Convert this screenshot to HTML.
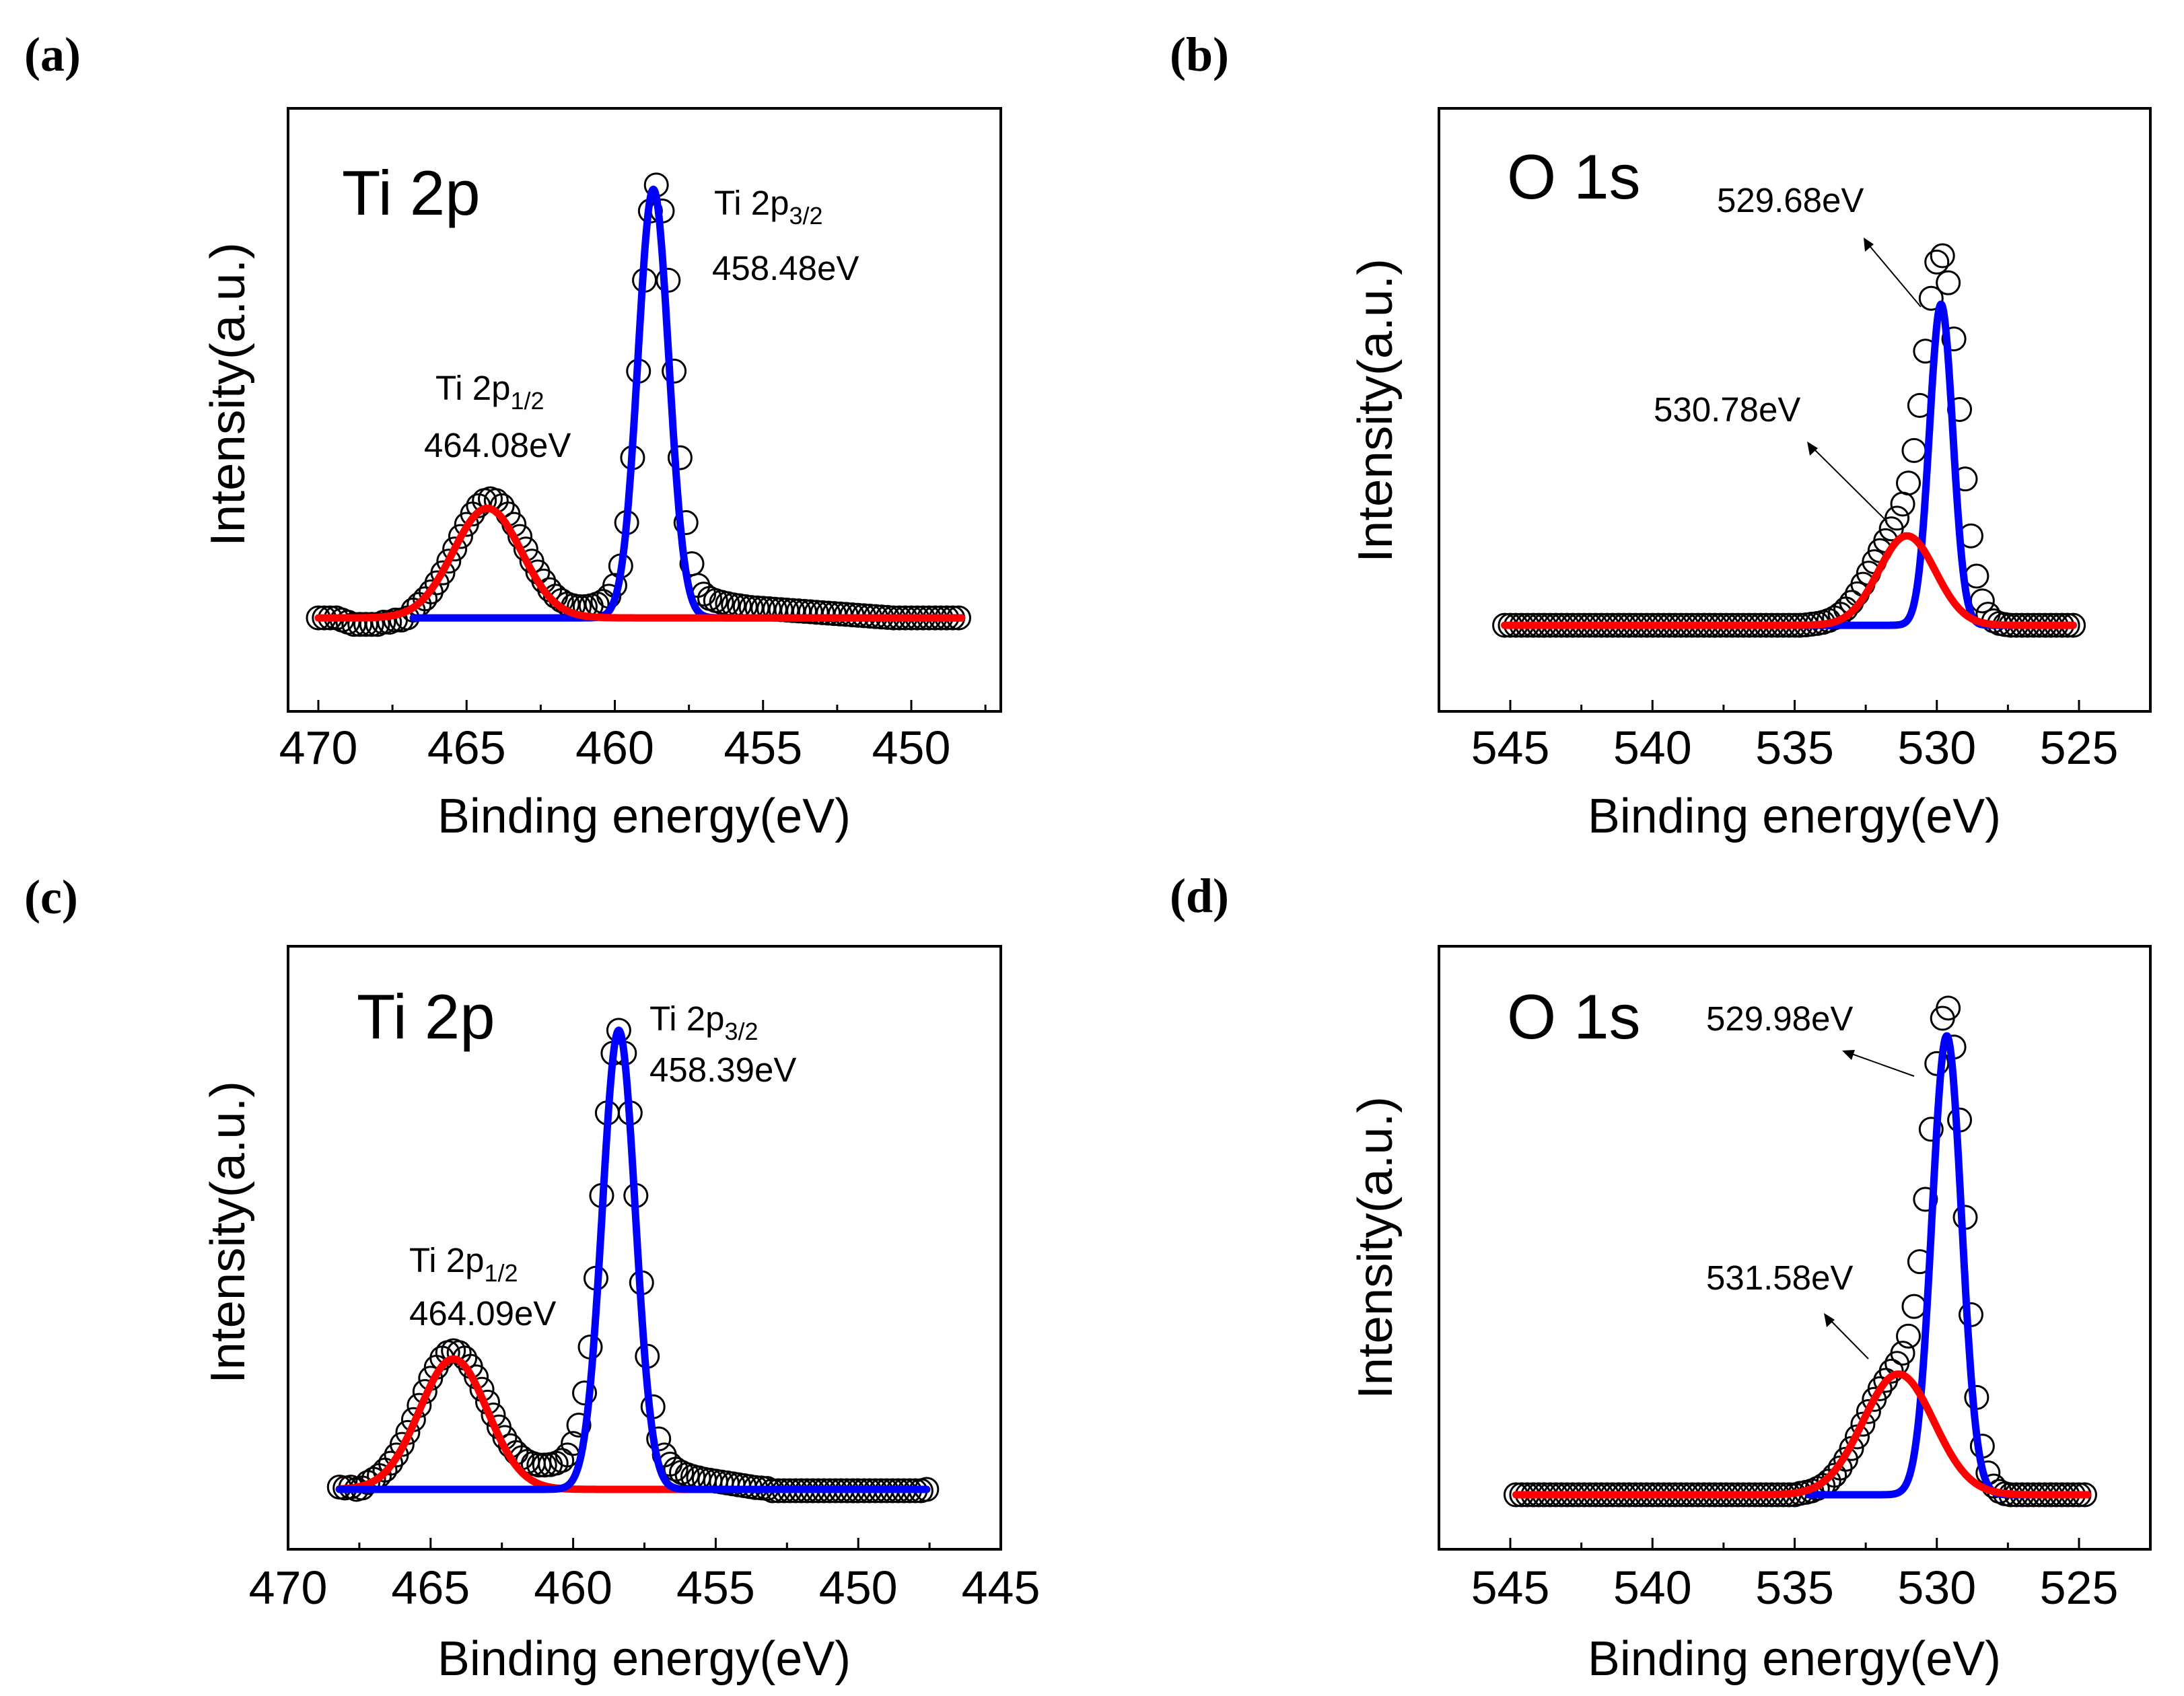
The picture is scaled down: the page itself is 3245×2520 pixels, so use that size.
<!DOCTYPE html>
<html>
<head>
<meta charset="utf-8">
<style>
html,body{margin:0;padding:0;background:#fff;}
svg{display:block;}
text{font-family:"Liberation Sans",Arial,sans-serif;fill:#000;}
.plabel{font-family:"Liberation Serif","Times New Roman",serif;font-weight:bold;font-size:72px;}
</style>
</head>
<body>
<svg id="fig" width="3245" height="2520" viewBox="0 0 3245 2520" xmlns="http://www.w3.org/2000/svg">
<rect x="0" y="0" width="3245" height="2520" fill="#fff"/>

<text class="plabel" x="36" y="105">(a)</text>
<text class="plabel" x="1738" y="105">(b)</text>
<text class="plabel" x="36" y="1357">(c)</text>
<text class="plabel" x="1738" y="1355">(d)</text>

<g id="panelA">
  <rect x="428" y="161" width="1059" height="896" fill="none" stroke="#000" stroke-width="4"/>
  <g id="plotA"></g>
  <text x="508" y="319" font-size="94">Ti 2p</text>
  <text x="1061" y="319" font-size="51">Ti 2p<tspan font-size="36" dy="14">3/2</tspan></text>
  <text x="1058" y="416" font-size="51">458.48eV</text>
  <text x="647" y="594" font-size="51">Ti 2p<tspan font-size="36" dy="14">1/2</tspan></text>
  <text x="630" y="679" font-size="51">464.08eV</text>
  <text x="957" y="1237" font-size="72" text-anchor="middle" textLength="614" lengthAdjust="spacingAndGlyphs">Binding energy(eV)</text>
  <text transform="translate(363,586) rotate(-90)" font-size="72" text-anchor="middle" textLength="452" lengthAdjust="spacingAndGlyphs">Intensity(a.u.)</text>
</g>

<g id="panelB">
  <rect x="2138" y="161" width="1057" height="896" fill="none" stroke="#000" stroke-width="4"/>
  <g id="plotB"></g>
  <text x="2239" y="295" font-size="94">O 1s</text>
  <text x="2551" y="315" font-size="51">529.68eV</text>
  <text x="2457" y="626" font-size="51">530.78eV</text>
  <line x1="2854" y1="456" x2="2775" y2="362" stroke="#000" stroke-width="2"/>
  <polygon points="2769,353 2771,374 2784,363" fill="#000"/>
  <line x1="2804" y1="775" x2="2692" y2="664" stroke="#000" stroke-width="2"/>
  <polygon points="2685,656 2689,677 2701,666" fill="#000"/>
  <text x="2666" y="1237" font-size="72" text-anchor="middle" textLength="614" lengthAdjust="spacingAndGlyphs">Binding energy(eV)</text>
  <text transform="translate(2068,610) rotate(-90)" font-size="72" text-anchor="middle" textLength="452" lengthAdjust="spacingAndGlyphs">Intensity(a.u.)</text>
</g>

<g id="panelC">
  <rect x="428" y="1406" width="1059" height="896" fill="none" stroke="#000" stroke-width="4"/>
  <g id="plotC"></g>
  <text x="530" y="1543" font-size="94">Ti 2p</text>
  <text x="965" y="1531" font-size="51">Ti 2p<tspan font-size="36" dy="14">3/2</tspan></text>
  <text x="965" y="1607" font-size="51">458.39eV</text>
  <text x="608" y="1890" font-size="51">Ti 2p<tspan font-size="36" dy="14">1/2</tspan></text>
  <text x="608" y="1969" font-size="51">464.09eV</text>
  <text x="957" y="2489" font-size="72" text-anchor="middle" textLength="614" lengthAdjust="spacingAndGlyphs">Binding energy(eV)</text>
  <text transform="translate(363,1831) rotate(-90)" font-size="72" text-anchor="middle" textLength="450" lengthAdjust="spacingAndGlyphs">Intensity(a.u.)</text>
</g>

<g id="panelD">
  <rect x="2138" y="1406" width="1057" height="896" fill="none" stroke="#000" stroke-width="4"/>
  <g id="plotD"></g>
  <text x="2239" y="1543" font-size="94">O 1s</text>
  <text x="2535" y="1531" font-size="51">529.98eV</text>
  <text x="2535" y="1916" font-size="51">531.58eV</text>
  <line x1="2844" y1="1599" x2="2746" y2="1564" stroke="#000" stroke-width="2"/>
  <polygon points="2737,1561 2751,1575 2756,1560" fill="#000"/>
  <line x1="2776" y1="2019" x2="2716" y2="1958" stroke="#000" stroke-width="2"/>
  <polygon points="2710,1951 2714,1972 2726,1961" fill="#000"/>
  <text x="2666" y="2489" font-size="72" text-anchor="middle" textLength="614" lengthAdjust="spacingAndGlyphs">Binding energy(eV)</text>
  <text transform="translate(2068,1854) rotate(-90)" font-size="72" text-anchor="middle" textLength="450" lengthAdjust="spacingAndGlyphs">Intensity(a.u.)</text>
</g>
</svg>

<script>
const panelAStart = 470.0;
const panelAStep = 0.2;
const panelAIntensity = [
0,0,0,0,-0.5,-1,-1.5,-1.5,-1.5,-1.5,-1.5,-1,-1,-0.5,-0.5,0,
1.8,3.1,4.4,6.0,8.1,10.4,13.1,15.9,18.8,21.6,24.0,25.9,27.1,27.5,27.1,25.9,24.0,21.6,18.8,15.9,
13.1,10.6,8.5,6.5,5.0,4.0,3.2,2.8,2.6,2.6,2.8,3.2,3.8,5.0,
7.5,12,22,37,57,78,94,100,94,78,57,37,22,12.5,7.5,5.5,4.5,4.0,3.6,3.3,3.0,
2.8,2.6,2.4,2.3,2.2,2.1,2.0,1.9,1.8,1.7,1.6,1.5,1.4,1.3,1.2,1.1,1.0,0.9,0.8,0.7,
0.6,0.5,0.4,0.3,0.2,0.1,0,0,0,0,0,0,0,0,0,0,0,0
];
const panelAFitCenters = [464.3, 458.7];
const panelAFitHeights = [25.3, 99];
const panelAFitSigmas = [1.15, 0.52];
const panelATicks = [470, 465, 460, 455, 450];
const panelATickLabels = ["470", "465", "460", "455", "450"];

const panelBStart = 545.2;
const panelBStep = 0.2;
const panelBIntensity = [
0,0,0,0,0,0,0,0,0,0,0,0,0,0,0,0,0,0,0,0,0,0,0,0,0,0,0,0,0,0,
0,0,0,0,0,0,0,0,0,0,0,0,0,0,0,0,0,0,0,0,0,0,0,
0.1,0.3,0.5,0.8,1.3,2.0,3.0,4.4,6.2,8.5,
11.1,14.1,17.2,20.2,22.9,26.1,29.0,32.8,38.5,47.3,
59.5,74.2,88.5,98.3,100,92.7,77.5,58.4,39.6,24.2,
13.3,6.6,3.0,1.2,0.5,0.2,
0,0,0,0,0,0,0,0,0,0,0,0
];
const panelBFitCenters = [531.05, 529.85];
const panelBFitHeights = [24.2, 86.9];
const panelBFitSigmas = [1.0, 0.41];
const panelBTicks = [545, 540, 535, 530, 525];
const panelBTickLabels = ["545", "540", "535", "530", "525"];

const panelCStart = 468.2;
const panelCStep = 0.2;
const panelCIntensity = [
0.5,0.3,0.5,0,0.3,1.5,2.2,3.0,4.2,5.7,
7.5,9.8,12.4,15.2,18.3,21.3,24.2,26.6,28.6,29.8,
30.2,29.8,28.6,26.8,24.5,21.8,19.0,16.2,13.6,11.3,
9.5,8.0,6.9,6.1,5.6,5.3,5.3,5.4,5.7,6.3,
7.5,10,14,21,31,46,64,82,95,100,
95,82,64,45,29,18,11,7.5,5.5,4.4,
3.7,3.2,2.8,2.5,2.2,2.0,1.8,1.6,1.4,1.2,
1.0,0.8,0.6,0.4,0.3,0.2,
-0.3,-0.3,-0.3,-0.3,-0.3,-0.3,-0.3,-0.3,-0.3,-0.3,-0.3,-0.3,-0.3,-0.3,
-0.3,-0.3,-0.3,-0.3,-0.3,-0.3,-0.3,-0.3,-0.3,-0.3,-0.3,-0.3,-0.3,0
];
const panelCFitCenters = [464.2, 458.4];
const panelCFitHeights = [28.4, 100];
const panelCFitSigmas = [1.19, 0.58];
const panelCTicks = [470, 465, 460, 455, 450, 445];
const panelCTickLabels = ["470", "465", "460", "455", "450", "445"];

const panelDStart = 544.8;
const panelDStep = 0.2;
const panelDIntensity = [
0,0,0,0,0,0,0,0,0,0,0,0,0,0,0,0,0,0,0,0,0,0,0,0,0,
0,0,0,0,0,0,0,0,0,0,0,0,0,0,0,0,0,0,0,0,0,0,0,0,0,
0.3,0.5,0.8,1.3,1.9,2.8,4.0,5.5,7.3,9.5,
11.9,14.5,17.1,19.6,21.8,23.5,25.4,27.0,29.1,32.6,
38.7,47.9,60.7,75.1,88.6,97.9,100,92,77,57,
37,20,10,4.5,1.8,0.7,0.2,
0,0,0,0,0,0,0,0,0,0,0,0,0,0
];
const panelDFitCenters = [531.35, 529.65];
const panelDFitHeights = [24.8, 94.3];
const panelDFitSigmas = [1.25, 0.52];
const panelDTicks = [545, 540, 535, 530, 525];
const panelDTickLabels = ["545", "540", "535", "530", "525"];

const NS = "http://www.w3.org/2000/svg";
const layouts = [
  {g:"plotA", x0:473, e0:470, x1:1354, e1:450, fl:428, fr:1487, ft:161, fb:1057, yMin:-21.6, yMax:117.7,
   minorFrom:470, minorTo:447.5, labelY:1135,
   start:panelAStart, step:panelAStep, data:panelAIntensity,
   c:panelAFitCenters, h:panelAFitHeights, s:panelAFitSigmas, ticks:panelATicks, labels:panelATickLabels,
   redDom:[470,448.3], blueDom:[466.8,448.3], redOnTop:true},
  {g:"plotB", x0:2244, e0:545, x1:3089, e1:525, fl:2138, fr:3195, ft:161, fb:1057, yMin:-23.3, yMax:139.9,
   minorFrom:545, minorTo:525, labelY:1135,
   start:panelBStart, step:panelBStep, data:panelBIntensity,
   c:panelBFitCenters, h:panelBFitHeights, s:panelBFitSigmas, ticks:panelBTicks, labels:panelBTickLabels,
   redDom:[545.2,525.2], blueDom:[535.5,525.2], redOnTop:true},
  {g:"plotC", x0:428, e0:470, x1:1487, e1:445, fl:428, fr:1487, ft:1406, fb:2302, yMin:-13.05, yMax:118.3,
   minorFrom:470, minorTo:445, labelY:2383,
   start:panelCStart, step:panelCStep, data:panelCIntensity,
   c:panelCFitCenters, h:panelCFitHeights, s:panelCFitSigmas, ticks:panelCTicks, labels:panelCTickLabels,
   redDom:[468.2,447.6], blueDom:[468.2,447.6], redOnTop:false},
  {g:"plotD", x0:2244, e0:545, x1:3089, e1:525, fl:2138, fr:3195, ft:1406, fb:2302, yMin:-11.2, yMax:112.7,
   minorFrom:545, minorTo:525, labelY:2383,
   start:panelDStart, step:panelDStep, data:panelDIntensity,
   c:panelDFitCenters, h:panelDFitHeights, s:panelDFitSigmas, ticks:panelDTicks, labels:panelDTickLabels,
   redDom:[544.8,524.7], blueDom:[534.5,524.7], redOnTop:true}
];

function gauss(e, c, h, s){ const d = e - c; return h * Math.exp(-d*d/(2*s*s)); }

layouts.forEach(function(L){
  const g = document.getElementById(L.g);
  const xs = function(e){ return L.x0 + (e - L.e0) * (L.x1 - L.x0) / (L.e1 - L.e0); };
  const ys = function(v){ return L.fb - (v - L.yMin) / (L.yMax - L.yMin) * (L.fb - L.ft); };

  for (let e = L.minorFrom; e >= L.minorTo - 1e-6; e -= 2.5) {
    const x = xs(e);
    if (x < L.fl + 2 || x > L.fr - 2) continue;
    const isMajor = Math.abs(e / 5 - Math.round(e / 5)) < 1e-6;
    if (isMajor) continue;
    const t = document.createElementNS(NS, "line");
    t.setAttribute("x1", x); t.setAttribute("x2", x);
    t.setAttribute("y1", L.fb); t.setAttribute("y2", L.fb - 10);
    t.setAttribute("stroke", "#000"); t.setAttribute("stroke-width", "3");
    
    
    g.appendChild(t);
  }
  L.ticks.forEach(function(e, i){
    const x = xs(e);
    const t = document.createElementNS(NS, "line");
    t.setAttribute("x1", x); t.setAttribute("x2", x);
    t.setAttribute("y1", L.fb); t.setAttribute("y2", L.fb - 17);
    t.setAttribute("stroke", "#000"); t.setAttribute("stroke-width", "3");
    
    
    g.appendChild(t);
    const lab = document.createElementNS(NS, "text");
    lab.setAttribute("x", x); lab.setAttribute("y", L.labelY);
    lab.setAttribute("font-size", "70"); lab.setAttribute("text-anchor", "middle");
    lab.textContent = L.labels[i];
    
    
    g.appendChild(lab);
  });

  const dg = document.createElementNS(NS, "g");
  
  
  L.data.forEach(function(v, i){
    const e = L.start - i * L.step;
    const c = document.createElementNS(NS, "circle");
    c.setAttribute("cx", xs(e)); c.setAttribute("cy", ys(v)); c.setAttribute("r", "17");
    c.setAttribute("fill", "none"); c.setAttribute("stroke", "#000"); c.setAttribute("stroke-width", "3");
    
    
    dg.appendChild(c);
  });
  g.appendChild(dg);

  function fitPath(idx, dom, color, name){
    let d = "";
    for (let e = dom[0]; e >= dom[1] - 1e-9; e -= 0.02) {
      const v = gauss(e, L.c[idx], L.h[idx], L.s[idx]);
      d += (d ? "L" : "M") + xs(e).toFixed(1) + "," + ys(v).toFixed(1);
    }
    const p = document.createElementNS(NS, "path");
    p.setAttribute("d", d); p.setAttribute("fill", "none");
    p.setAttribute("stroke", color); p.setAttribute("stroke-width", "11");
    p.setAttribute("stroke-linejoin", "round"); p.setAttribute("stroke-linecap", "round");
    
    
    return p;
  }
  const red = fitPath(0, L.redDom, "#ff0000", "fit-curve-red");
  const blue = fitPath(1, L.blueDom, "#0000ff", "fit-curve-blue");
  if (L.redOnTop) { g.appendChild(blue); g.appendChild(red); }
  else { g.appendChild(red); g.appendChild(blue); }
});
</script>
</body>
</html>
